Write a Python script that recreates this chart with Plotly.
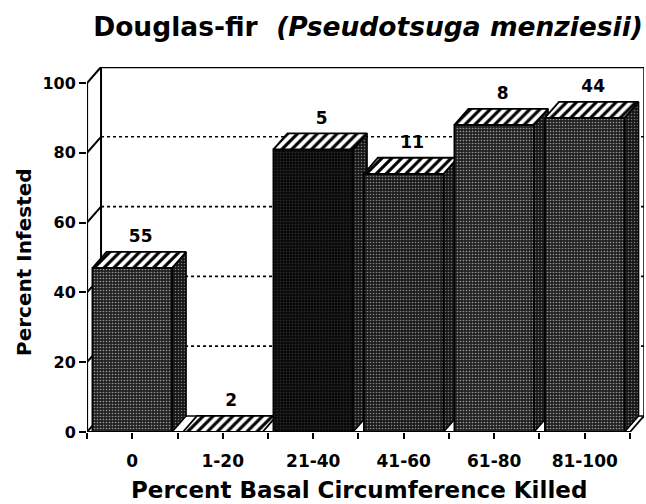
import plotly.graph_objects as go

# ---- data ----
categories = ["0", "1-20", "21-40", "41-60", "61-80", "81-100"]
percent_infested = [47, 0, 81, 74, 88, 90]
sample_sizes = [55, 2, 5, 11, 8, 44]
y_ticks = [0, 20, 40, 60, 80, 100]

# ---- style ----
BAR_W = 0.88      # front-face width (category units)
DX = 0.155        # depth offset, x (category units)
DY = 4.6          # depth offset, y (percent units)
FONT = "DejaVu Sans"
front_bg = ["#222222", "#222222", "#0a0a0a", "#1c1c1c", "#222222", "#222222"]
front_fg = ["#9a9a9a", "#9a9a9a", "#2e2e2e", "#888888", "#9a9a9a", "#9a9a9a"]

fig = go.Figure()


def add_poly(xs, ys, bg=None, fg=None, shape=None, size=4, solidity=0.3,
             lw=1.5, dash="solid", close=True):
    if close:
        xs = list(xs) + [xs[0]]
        ys = list(ys) + [ys[0]]
    kw = dict(x=xs, y=ys, mode="lines", showlegend=False, hoverinfo="skip",
              cliponaxis=False, line=dict(color="black", width=lw, dash=dash))
    if bg is not None:
        kw["fill"] = "toself"
        kw["fillcolor"] = bg
        if shape:
            kw["fillpattern"] = dict(shape=shape, bgcolor=bg, fgcolor=fg,
                                     size=size, solidity=solidity, fillmode="replace")
    fig.add_trace(go.Scatter(**kw))


n = len(categories)
x0, x1 = -0.5, n - 0.5
top = y_ticks[-1]

# back wall grid lines (dotted)
for t in y_ticks[1:-1]:
    add_poly([x0 + DX, x1 + DX], [t + DY, t + DY], lw=1.6, dash="dot", close=False)
# back floor line and wall frame
add_poly([x0 + DX, x1 + DX], [DY, DY], lw=1.5, close=False)
add_poly([x0 + DX, x0 + DX], [DY, top + DY], lw=2, close=False)
add_poly([x0 + DX, x1 + DX], [top + DY, top + DY], lw=2.5, close=False)
add_poly([x1 + DX, x1 + DX], [DY, top + DY], lw=1.5, close=False)
# left side-wall diagonals at each tick
for t in y_ticks:
    add_poly([x0, x0 + DX], [t, t + DY], lw=2, close=False)
# front axis and floor edges
add_poly([x0, x0], [0, top], lw=2.2, close=False)
add_poly([x0, x1], [0, 0], lw=2.2, close=False)
add_poly([x1, x1 + DX], [0, DY], lw=1.8, close=False)

# bars
for i, v in enumerate(percent_infested):
    L = i - BAR_W / 2
    R = i + BAR_W / 2
    if v > 0:
        # side face
        add_poly([R, R + DX, R + DX, R], [0, DY, v + DY, v],
                 bg="#161616", fg="#777777", shape=".", size=3, solidity=0.22, lw=1.5)
        # front face
        add_poly([L, R, R, L], [0, 0, v, v],
                 bg=front_bg[i], fg=front_fg[i], shape=".", size=3, solidity=0.24, lw=1.8)
    # top face (hatched)
    add_poly([L, R, R + DX, L + DX], [v, v, v + DY, v + DY],
             bg="white", fg="black", shape="/", size=7, solidity=0.45, lw=1.8)

# count labels above the bars
fig.add_trace(go.Scatter(
    x=[i + DX * 0.6 for i in range(n)],
    y=[v + DY + 1.5 for v in percent_infested],
    text=[str(s) for s in sample_sizes],
    mode="text", textposition="top center", cliponaxis=False,
    textfont=dict(family=FONT, size=17, color="black", weight="bold"),
    showlegend=False, hoverinfo="skip"))

x_tickvals = []
x_ticktext = []
for i in range(n):
    x_tickvals += [i - 0.5, i]
    x_ticktext += ["", categories[i]]
x_tickvals.append(n - 0.5)
x_ticktext.append("")

fig.update_layout(
    width=646, height=504,
    margin=dict(l=87, r=2, t=67, b=72),
    paper_bgcolor="white", plot_bgcolor="white",
    title=dict(text="<b>Douglas-fir\u00a0\u00a0<i>(Pseudotsuga menziesii)</i></b>",
               x=0.5697, xanchor="center", y=0.946, yanchor="middle",
               font=dict(family=FONT, size=26.5, color="black")),
    xaxis=dict(range=[x0, x1 + DX], tickvals=x_tickvals, ticktext=x_ticktext,
               ticks="outside", ticklen=6, tickwidth=2, tickcolor="black",
               showgrid=False, zeroline=False, showline=False,
               ticklabelstandoff=8,
               tickfont=dict(family=FONT, size=17, color="black", weight="bold")),
    yaxis=dict(range=[0, top + DY], tickvals=y_ticks,
               ticks="outside", ticklen=7, tickwidth=2, tickcolor="black",
               showgrid=False, zeroline=False, showline=False,
               tickfont=dict(family=FONT, size=16, color="black", weight="bold")),
    annotations=[
        dict(text="<b>Percent Basal Circumference Killed</b>", xref="paper", yref="paper",
             x=0.488, y=-0.16, xanchor="center", yanchor="middle", showarrow=False,
             font=dict(family=FONT, size=23, color="black")),
        dict(text="<b>Percent Infested</b>", xref="paper", yref="paper",
             x=-0.113, y=0.466, xanchor="center", yanchor="middle", showarrow=False,
             textangle=-90, font=dict(family=FONT, size=20, color="black")),
    ],
)

fig.write_html("out.html", config={"displayModeBar": False},
               post_script="document.body.style.margin='0';")
